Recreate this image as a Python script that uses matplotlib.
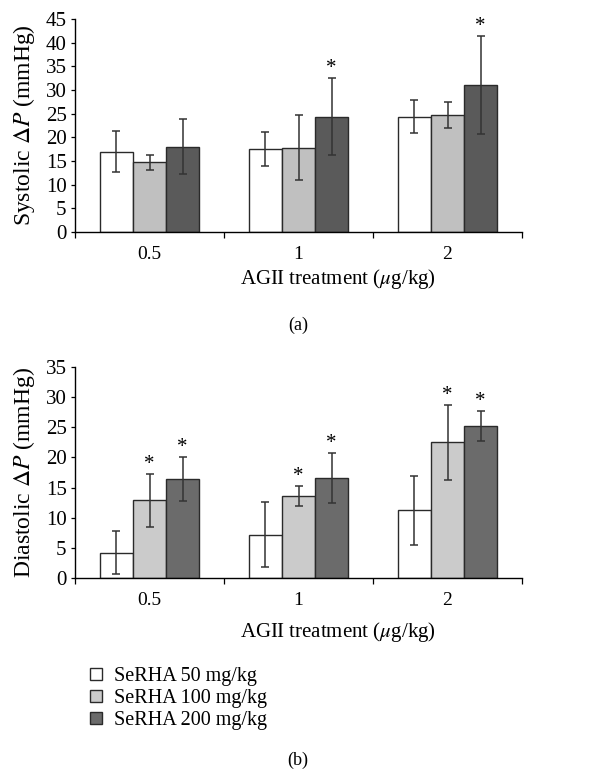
import numpy as np
import matplotlib
matplotlib.use("Agg")
import matplotlib.pyplot as plt

plt.rcParams['font.family'] = ['Liberation Serif', 'DejaVu Serif']
plt.rcParams['mathtext.fontset'] = 'stix'

doses = ["0.5", "1", "2"]
groups = ["SeRHA 50 mg/kg", "SeRHA 100 mg/kg", "SeRHA 200 mg/kg"]

# systolic (a)
sys_mean = [[17.0, 17.5, 24.4], [14.7, 17.8, 24.7], [18.0, 24.4, 31.1]]
sys_sd = [[4.4, 3.6, 3.4], [1.6, 6.9, 2.7], [5.8, 8.1, 10.4]]
sys_star = [[False, False, False], [False, False, False], [False, True, True]]

# diastolic (b)
dia_mean = [[4.2, 7.2, 11.2], [12.9, 13.6, 22.5], [16.4, 16.6, 25.2]]
dia_sd = [[3.6, 5.4, 5.8], [4.4, 1.6, 6.2], [3.6, 4.1, 2.5]]
dia_star = [[False, False, False], [True, True, True], [True, True, True]]

W, H = 612, 777
fig = plt.figure(figsize=(W / 100, H / 100), dpi=100)


def panel(rect, means, sds, stars, colors, ymax, ylabel):
    ax = fig.add_axes(rect)
    x = np.arange(len(doses)) + 0.5
    bw = 0.222
    bars = []
    for i in range(3):
        b = ax.bar(x + (i - 1) * bw, means[i], bw, color=colors[i],
                   edgecolor='#2a2a2a', linewidth=1.0, zorder=2)
        bars.append(b)
        ax.errorbar(x + (i - 1) * bw, means[i], yerr=sds[i], fmt='none',
                    ecolor='#333333', elinewidth=1.1, capsize=3.2,
                    capthick=1.1, zorder=3)
        for j in range(3):
            if stars[i][j]:
                ax.annotate('*', (x[j] + (i - 1) * bw, means[i][j] + sds[i][j]),
                            xytext=(0, 0), textcoords='offset points',
                            ha='center', va='bottom', fontsize=15)
    ax.set_xlim(0, 3)
    ax.set_ylim(0, ymax)
    ax.set_yticks(np.arange(0, ymax + 1, 5))
    ax.set_xticks([0, 1, 2, 3])
    ax.set_xticklabels([])
    ax.set_xticks(x, minor=True)
    ax.set_xticklabels(doses, minor=True)
    ax.tick_params(axis='x', which='major', length=4, width=0.9)
    ax.tick_params(axis='x', which='minor', length=0, pad=10, labelsize=14)
    ax.tick_params(axis='y', length=3, width=0.9, labelsize=15, pad=3)
    for s in ['top', 'right']:
        ax.spines[s].set_visible(False)
    for s in ['left', 'bottom']:
        ax.spines[s].set_linewidth(1.0)
    ax.set_ylabel(ylabel, fontsize=17, labelpad=6)
    return ax, bars


ax1, _ = panel([75 / W, 1 - 232 / H, 447 / W, 213 / H], sys_mean, sys_sd,
               sys_star, ['white', '#c0c0c0', '#5a5a5a'], 45,
               r'Systolic $\Delta P$ (mmHg)')
ax2, bars = panel([75 / W, 1 - 578 / H, 447 / W, 211 / H], dia_mean, dia_sd,
                  dia_star, ['white', '#cbcbcb', '#6b6b6b'], 35,
                  r'Diastolic $\Delta P$ (mmHg)')

xl = r'AGII treatment ($\mu$g/kg)'
fig.text(338 / W, 1 - 279 / H, xl, ha='center', va='center', fontsize=15)
fig.text(338 / W, 1 - 632 / H, xl, ha='center', va='center', fontsize=15)
fig.text(298 / W, 1 - 325 / H, '(a)', ha='center', va='center', fontsize=13)
fig.text(298 / W, 1 - 760 / H, '(b)', ha='center', va='center', fontsize=13)

leg = fig.legend(bars, groups, loc='upper left',
                 bbox_to_anchor=(72 / W, 1 - 649 / H), frameon=False,
                 fontsize=14.5, handlelength=0.6, handleheight=0.6,
                 handletextpad=0.6, labelspacing=0.15)

fig.savefig('out.png', dpi=100)
